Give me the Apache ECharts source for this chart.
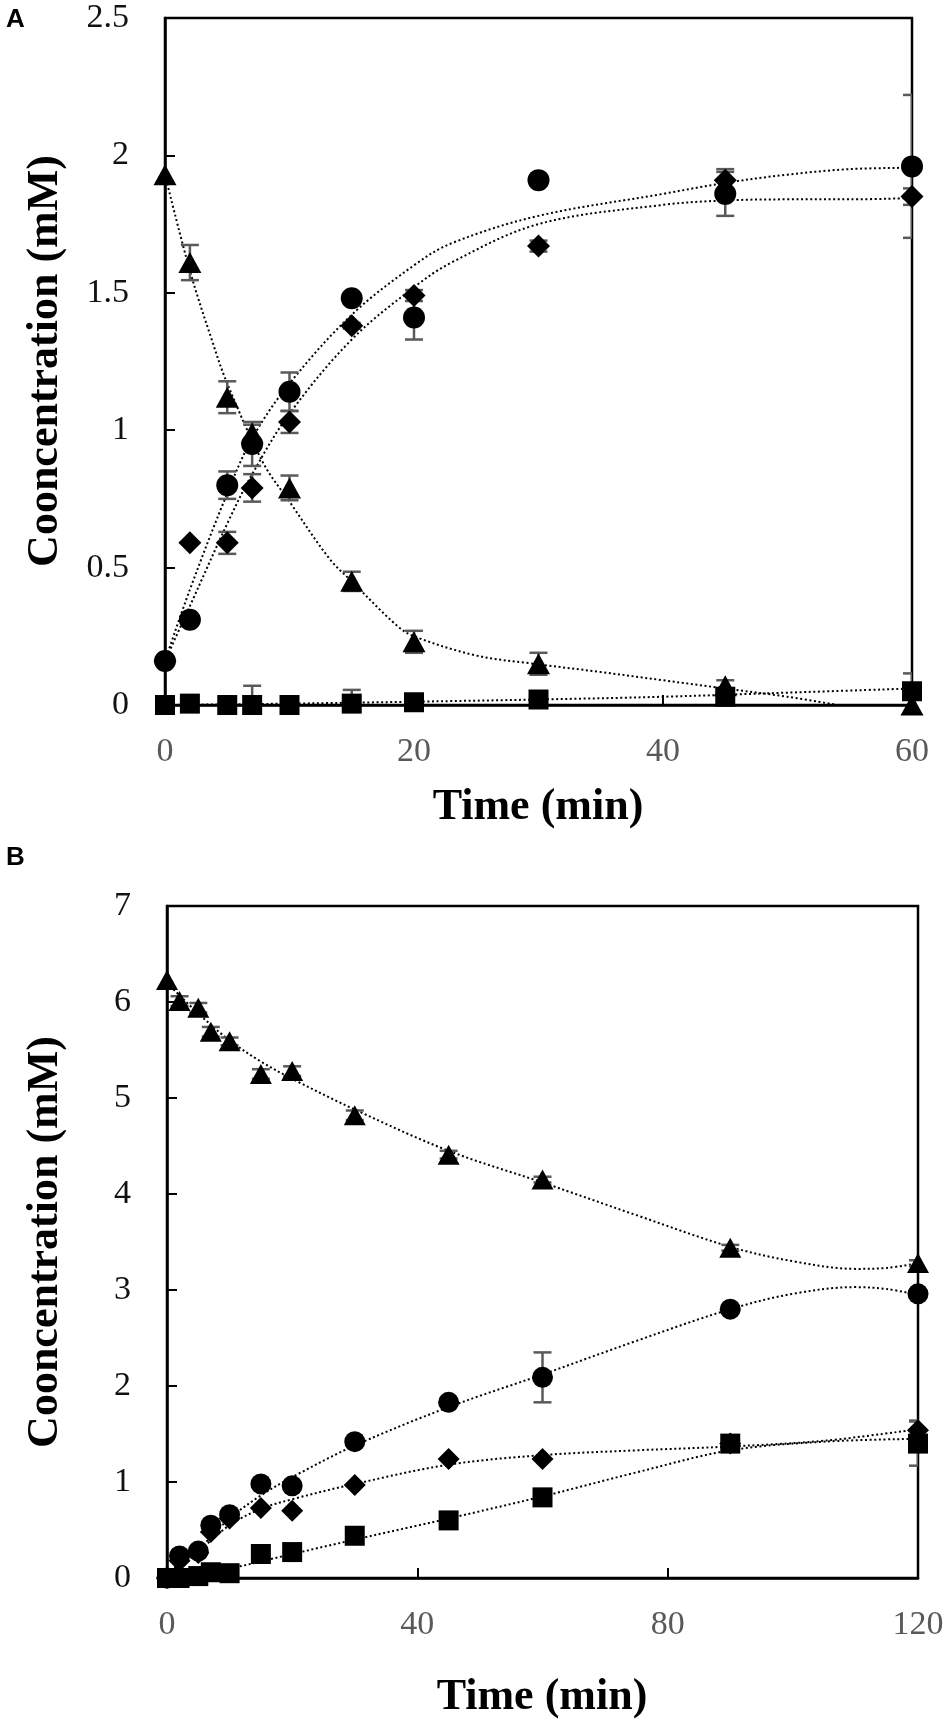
<!DOCTYPE html>
<html>
<head>
<meta charset="utf-8">
<title>Concentration vs time</title>
<script src="https://cdn.jsdelivr.net/npm/echarts@6/dist/echarts.min.js"></script>
<style>
  html, body { margin: 0; padding: 0; background: #fff; }
  #chart { width: 950px; height: 1727px; }
</style>
</head>
<body>
<div id="chart"></div>
<script>
// ---- panel A (0-60 min) ----
var timeA = [0, 2, 5, 7, 10, 15, 20, 30, 45, 60];
var circleA = [0.16, 0.31, 0.80, 0.95, 1.14, 1.48, 1.41, 1.91, 1.86, 1.96];
var circleErrA = [0, 0, 0.05, 0.08, 0.07, 0, 0.08, 0, 0.08, 0.26];
var diamondA = [0.16, 0.59, 0.59, 0.79, 1.03, 1.38, 1.49, 1.67, 1.91, 1.85];
var diamondErrA = [0, 0, 0.04, 0.05, 0.04, 0.01, 0.02, 0.02, 0.04, 0.03];
var triangleA = [1.93, 1.61, 1.12, 0.99, 0.79, 0.45, 0.23, 0.15, 0.07, 0];
var triangleErrA = [0, 0.064, 0.058, 0.03, 0.045, 0.035, 0.04, 0.04, 0.02, 0];
var squareA = [0, 0.005, 0, 0, 0, 0.005, 0.01, 0.02, 0.03, 0.05];
var squareErrA = [0, 0, 0.01, 0.07, 0, 0.05, 0, 0.01, 0.02, 0.065];

// dotted trend curves, [time, conc]
var circleTrendA = [[0, 0.16], [2, 0.42], [5, 0.77], [7, 0.97], [10, 1.17], [15, 1.42], [20, 1.6], [23, 1.68], [30, 1.78], [40, 1.86], [45, 1.9], [50, 1.93], [55, 1.95], [60, 1.955]];
var diamondTrendA = [[0, 0.16], [2, 0.36], [5, 0.66], [7, 0.84], [10, 1.06], [15, 1.33], [20, 1.52], [23, 1.61], [30, 1.75], [40, 1.82], [45, 1.836], [50, 1.84], [55, 1.84], [60, 1.845]];
var triangleTrendA = [[0, 1.93], [2, 1.58], [3.75, 1.33], [5, 1.17], [7.9, 0.88], [10, 0.74], [13.25, 0.53], [15, 0.45], [18.6, 0.29], [20, 0.25], [25, 0.18], [29.3, 0.152], [35, 0.12], [40, 0.09], [45, 0.06], [50, 0.03], [54, 0]];
var squareTrendA = [[0, 0], [10, 0.005], [20, 0.012], [30, 0.02], [40, 0.03], [50, 0.045], [60, 0.06]];

// ---- panel B (0-120 min) ----
var timeB = [0, 2, 5, 7, 10, 15, 20, 30, 45, 60, 90, 120];
var triangleB = [6.23, 6.01, 5.94, 5.69, 5.59, 5.25, 5.28, 4.82, 4.41, 4.15, 3.44, 3.28];
var triangleErrB = [0, 0.05, 0.05, 0.05, 0.04, 0.05, 0.05, 0.05, 0.04, 0.03, 0.03, 0.03];
var circleB = [0, 0.23, 0.28, 0.55, 0.66, 0.98, 0.96, 1.42, 1.83, 2.09, 2.80, 2.96];
var circleErrB = [0, 0, 0, 0.03, 0.02, 0.02, 0.02, 0, 0.03, 0.26, 0.03, 0.04];
var diamondB = [0, 0.18, 0.26, 0.48, 0.62, 0.73, 0.70, 0.97, 1.24, 1.24, 1.40, 1.54];
var diamondErrB = [0, 0, 0, 0, 0, 0, 0, 0, 0, 0, 0, 0.1];
var squareB = [0, 0, 0.02, 0.06, 0.05, 0.25, 0.27, 0.44, 0.60, 0.84, 1.40, 1.40];
var squareErrB = [0, 0, 0, 0, 0, 0, 0, 0, 0, 0, 0, 0.23];

var triangleTrendB = [[0, 6.2], [5, 5.88], [10, 5.6], [15, 5.38], [20, 5.2], [30, 4.88], [45, 4.45], [60, 4.12], [75, 3.78], [90, 3.45], [100, 3.3], [110, 3.22], [115, 3.23], [120, 3.28]];
var circleTrendB = [[0, 0.05], [5, 0.3], [10, 0.62], [15, 0.86], [20, 1.05], [30, 1.38], [45, 1.78], [60, 2.12], [75, 2.47], [90, 2.8], [100, 2.96], [110, 3.03], [115, 3.01], [120, 2.95]];
var diamondTrendB = [[0, 0.05], [5, 0.28], [10, 0.55], [15, 0.72], [20, 0.82], [30, 0.98], [45, 1.18], [60, 1.28], [75, 1.33], [90, 1.37], [105, 1.43], [120, 1.55]];
var squareTrendB = [[0, 0], [10, 0.1], [20, 0.25], [30, 0.4], [45, 0.62], [60, 0.85], [75, 1.1], [90, 1.33], [105, 1.42], [120, 1.45]];

var serif = '"Liberation Serif", "Times New Roman", serif';

function pairs(times, vals) {
    var out = [];
    for (var i = 0; i < times.length; i++) out.push([times[i], vals[i]]);
    return out;
}

function trend(idx, data) {
    return {
        type: 'line', xAxisIndex: idx, yAxisIndex: idx, data: data,
        smooth: 0.35, showSymbol: false, silent: true, z: 2,
        lineStyle: { color: '#000', width: 2, type: [2, 2.6] }
    };
}

function points(idx, times, vals, symbol, size) {
    return {
        type: 'scatter', xAxisIndex: idx, yAxisIndex: idx, data: pairs(times, vals),
        symbol: symbol, symbolSize: size, itemStyle: { color: '#000', opacity: 1 }, z: 4, silent: true
    };
}

function errorBars(idx, times, vals, errs) {
    var data = [];
    for (var i = 0; i < times.length; i++) {
        if (errs[i] > 0) data.push([times[i], vals[i] - errs[i], vals[i] + errs[i]]);
    }
    return {
        type: 'custom', xAxisIndex: idx, yAxisIndex: idx, z: 3, silent: true, clip: true,
        encode: { x: 0, y: [1, 2] },
        data: data,
        renderItem: function (params, api) {
            var lo = api.coord([api.value(0), api.value(1)]);
            var hi = api.coord([api.value(0), api.value(2)]);
            var w = 9;
            var st = { stroke: '#5a5a5a', lineWidth: 2.5 };
            return {
                type: 'group', children: [
                    { type: 'line', shape: { x1: lo[0], y1: lo[1], x2: hi[0], y2: hi[1] }, style: st },
                    { type: 'line', shape: { x1: lo[0] - w, y1: lo[1], x2: lo[0] + w, y2: lo[1] }, style: st },
                    { type: 'line', shape: { x1: hi[0] - w, y1: hi[1], x2: hi[0] + w, y2: hi[1] }, style: st }
                ]
            };
        }
    };
}

function xAxis(idx, max, step) {
    return {
        type: 'value', gridIndex: idx, min: 0, max: max, interval: step,
        axisLine: { lineStyle: { color: '#000', width: 2.5 } },
        axisTick: { inside: true, length: 10, lineStyle: { color: '#000', width: 2 } },
        axisLabel: { margin: 30, color: '#595959', fontFamily: serif, fontSize: 34 },
        splitLine: { show: false }
    };
}

function yAxis(idx, max, step) {
    return {
        type: 'value', gridIndex: idx, min: 0, max: max, interval: step,
        axisLine: { show: true, lineStyle: { color: '#000', width: 2.5 } },
        axisTick: { show: true, inside: true, length: 10, lineStyle: { color: '#000', width: 2 } },
        axisLabel: { margin: 36, color: '#111', fontFamily: serif, fontSize: 34 },
        splitLine: { show: false }
    };
}

var titleFont = 'bold 44px ' + serif;
var panelFont = 'bold 26px "Liberation Sans", Arial, sans-serif';

var option = {
    backgroundColor: '#fff',
    animation: false,
    grid: [
        { left: 165, top: 18, width: 747, height: 687, show: true, borderColor: '#000', borderWidth: 2.5 },
        { left: 167, top: 906, width: 751, height: 672, show: true, borderColor: '#000', borderWidth: 2.5 }
    ],
    xAxis: [xAxis(0, 60, 20), xAxis(1, 120, 40)],
    yAxis: [yAxis(0, 2.5, 0.5), yAxis(1, 7, 1)],
    graphic: [
        { type: 'text', x: 6, y: 7, style: { text: 'A', font: panelFont, fill: '#000' } },
        { type: 'text', x: 6, y: 845, style: { text: 'B', font: panelFont, fill: '#000' } },
        { type: 'text', x: 46, y: 361, rotation: Math.PI / 2,
          style: { text: 'Cooncentration (mM)', font: titleFont, fill: '#000', align: 'center', verticalAlign: 'middle' } },
        { type: 'text', x: 46, y: 1242, rotation: Math.PI / 2,
          style: { text: 'Cooncentration (mM)', font: titleFont, fill: '#000', align: 'center', verticalAlign: 'middle' } },
        { type: 'text', x: 538, y: 808,
          style: { text: 'Time (min)', font: titleFont, fill: '#000', align: 'center', verticalAlign: 'middle' } },
        { type: 'text', x: 542, y: 1698,
          style: { text: 'Time (min)', font: titleFont, fill: '#000', align: 'center', verticalAlign: 'middle' } }
    ],
    series: [
        trend(0, circleTrendA), trend(0, diamondTrendA), trend(0, triangleTrendA), trend(0, squareTrendA),
        errorBars(0, timeA, circleA, circleErrA),
        errorBars(0, timeA, diamondA, diamondErrA),
        errorBars(0, timeA, triangleA, triangleErrA),
        errorBars(0, timeA, squareA, squareErrA),
        points(0, timeA, diamondA, 'diamond', [23, 23]),
        points(0, timeA, circleA, 'circle', 22),
        points(0, timeA, triangleA, 'triangle', [23, 21]),
        points(0, timeA, squareA, 'rect', [20, 20]),

        trend(1, triangleTrendB), trend(1, circleTrendB), trend(1, diamondTrendB), trend(1, squareTrendB),
        errorBars(1, timeB, triangleB, triangleErrB),
        errorBars(1, timeB, circleB, circleErrB),
        errorBars(1, timeB, diamondB, diamondErrB),
        errorBars(1, timeB, squareB, squareErrB),
        points(1, timeB, diamondB, 'diamond', [22, 22]),
        points(1, timeB, circleB, 'circle', 21),
        points(1, timeB, triangleB, 'triangle', [22, 20]),
        points(1, timeB, squareB, 'rect', [20, 20])
    ]
};

var chart = echarts.init(document.getElementById('chart'), null, { renderer: 'canvas' });
chart.setOption(option);
</script>
</body>
</html>
